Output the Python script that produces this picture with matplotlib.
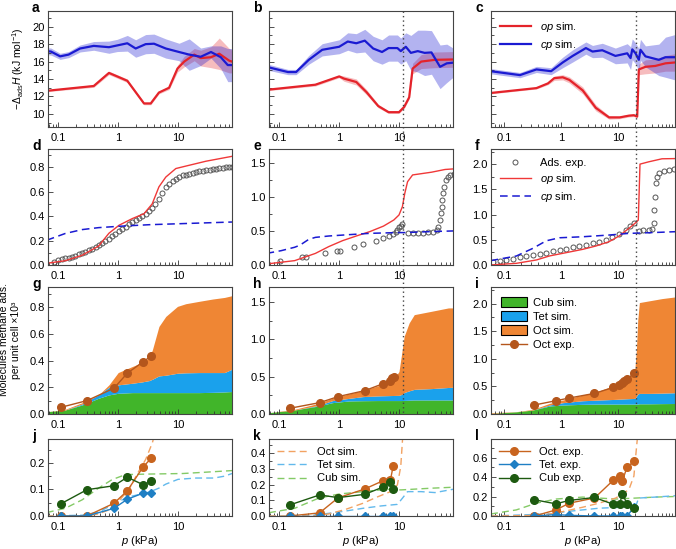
import numpy as np
import matplotlib
matplotlib.use("Agg")
import matplotlib.pyplot as plt
import matplotlib.transforms as mtransforms
from matplotlib.ticker import LogLocator, NullFormatter, MultipleLocator, FormatStrFormatter
from matplotlib.patches import Patch
from matplotlib.lines import Line2D

plt.rcParams["font.family"] = ["Liberation Sans", "DejaVu Sans"]
plt.rcParams["mathtext.fontset"] = "custom"
plt.rcParams["mathtext.rm"] = "Liberation Sans"
plt.rcParams["mathtext.it"] = "Liberation Sans:italic"
plt.rcParams["axes.linewidth"] = 0.8

# ---------------- data (row 1: enthalpy) ----------------
a_op_x = [0.064, 0.39, 0.70, 0.96, 1.42, 2.7, 3.5, 4.8, 7.1, 9.8, 12.7, 18.7, 24, 35.6, 49, 72, 80]
a_op_y = [12.65, 13.2, 14.7, 14.3, 13.8, 11.2, 11.2, 12.45, 13.0, 15.2, 16.0, 16.8, 16.4, 16.5, 16.9, 16.1, 16.0]
a_op_err = [0.1, 0.15, 0.2, 0.2, 0.2, 0.15, 0.15, 0.15, 0.2, 0.4, 0.6, 0.7, 0.9, 1.2, 1.8, 1.4, 1.3]
a_cp_x = [0.064, 0.075, 0.107, 0.148, 0.23, 0.39, 0.70, 0.96, 1.42, 1.96, 2.88, 3.97, 6.25, 10.4, 15.4, 24, 35.6, 52, 68, 80]
a_cp_y = [17.2, 17.15, 16.6, 16.8, 17.5, 17.8, 17.65, 17.85, 18.1, 17.5, 18.0, 18.05, 17.5, 17.1, 16.8, 16.55, 17.1, 16.5, 15.6, 15.6]
a_cp_err = [0.4, 0.4, 0.35, 0.35, 0.4, 0.5, 0.7, 0.7, 0.9, 1.0, 1.1, 1.1, 1.1, 1.0, 1.8, 1.0, 0.7, 1.3, 1.9, 1.9]

b_op_x = [0.061, 0.40, 1.0, 1.2, 1.93, 2.86, 4.5, 6.7, 10, 12.2, 14.8, 16.9, 23.5, 39.7, 87]
b_op_y = [12.76, 13.35, 14.3, 14.05, 13.66, 12.5, 10.9, 10.2, 10.2, 10.8, 11.9, 15.2, 16.0, 16.2, 16.25]
b_op_err = [0.1, 0.15, 0.15, 0.3, 0.35, 0.3, 0.2, 0.15, 0.15, 0.15, 0.2, 0.6, 0.8, 0.9, 0.9]
b_cp_x = [0.061, 0.139, 0.19, 0.31, 0.52, 1.0, 1.39, 1.93, 2.68, 3.7, 5.2, 6.7, 9.4, 10.7, 13.0, 15.8, 20.6, 26.8, 34.9, 48.6, 63, 87]
b_cp_y = [15.4, 14.8, 14.8, 16.2, 17.35, 17.7, 18.3, 18.1, 18.4, 17.5, 17.1, 17.55, 17.55, 17.2, 17.7, 17.0, 17.2, 17.0, 17.05, 15.4, 15.8, 15.9]
b_cp_err = [0.35, 0.3, 0.3, 0.5, 0.7, 0.8, 1.0, 1.1, 1.3, 1.4, 1.4, 1.5, 1.5, 1.5, 1.6, 2.0, 2.4, 2.6, 2.5, 2.5, 2.2, 1.5]

c_op_x = [0.058, 0.37, 0.59, 0.76, 1.07, 1.40, 2.4, 4.07, 6.96, 10.7, 15.5, 19.0, 21.7, 23.2, 30.3, 45, 68, 100]
c_op_y = [12.4, 12.96, 13.5, 14.1, 14.2, 13.9, 12.7, 10.7, 9.6, 9.6, 9.8, 9.85, 9.7, 15.1, 15.4, 15.5, 15.8, 15.9]
c_op_err = [0.1, 0.1, 0.15, 0.25, 0.3, 0.35, 0.4, 0.35, 0.2, 0.15, 0.15, 0.15, 0.15, 0.6, 0.8, 0.8, 0.9, 1.0]
c_cp_x = [0.058, 0.19, 0.37, 0.67, 1.07, 1.6, 2.73, 3.57, 5.3, 9.0, 14.5, 16.6, 17.8, 20.3, 23.2, 24.8, 30.3, 52, 68, 100]
c_cp_y = [14.9, 14.45, 15.1, 14.9, 15.9, 16.65, 17.55, 17.15, 17.3, 16.65, 16.95, 16.4, 17.4, 16.95, 16.2, 17.35, 16.6, 16.2, 16.5, 16.5]
c_cp_err = [0.3, 0.3, 0.35, 0.4, 0.6, 0.7, 0.7, 0.7, 0.8, 0.9, 1.1, 1.3, 1.2, 1.2, 1.3, 1.2, 1.2, 1.8, 2.3, 2.6]

# ---------------- data (row 2: isotherms) ----------------
d_op_x = [0.064, 0.13, 0.25, 0.47, 0.70, 1.03, 1.72, 2.7, 3.7, 4.8, 6.25, 9.2, 13.5, 29.4, 80]
d_op_y = [0.014, 0.035, 0.08, 0.155, 0.26, 0.325, 0.38, 0.42, 0.50, 0.64, 0.72, 0.79, 0.81, 0.85, 0.89]
d_cp_x = [0.064, 0.13, 0.25, 0.47, 1.03, 3.3, 12, 80]
d_cp_y = [0.203, 0.258, 0.29, 0.306, 0.317, 0.33, 0.339, 0.352]
d_exp_x = [0.083, 0.1, 0.115, 0.13, 0.15, 0.17, 0.19, 0.22, 0.25, 0.28, 0.32, 0.37, 0.42, 0.47, 0.54, 0.61,
           0.7, 0.79, 0.9, 1.03, 1.17, 1.33, 1.5, 1.72, 1.95, 2.23, 2.5, 2.88, 3.25, 3.73, 4.2, 4.8, 5.5, 6.25,
           7.1, 8.1, 9.2, 10.5, 12, 13.5, 15.5, 17.5, 20, 22.7, 26, 29.4, 34, 38, 44, 49, 56, 64, 72, 79]
d_exp_y = [0.027, 0.04, 0.047, 0.054, 0.061, 0.068, 0.077, 0.087, 0.097, 0.108, 0.12, 0.133, 0.146, 0.16,
           0.177, 0.195, 0.215, 0.236, 0.256, 0.277, 0.295, 0.312, 0.332, 0.353, 0.37, 0.388, 0.403, 0.42,
           0.442, 0.47, 0.5, 0.54, 0.59, 0.637, 0.667, 0.69, 0.708, 0.724, 0.733, 0.74, 0.747, 0.754, 0.76,
           0.767, 0.772, 0.778, 0.782, 0.786, 0.79, 0.795, 0.798, 0.80, 0.803, 0.805]

e_op_x = [0.061, 0.18, 0.40, 0.67, 1.14, 1.93, 3.27, 5.5, 8.2, 10, 11.4, 12.5, 13.9, 16.9, 35, 59, 87]
e_op_y = [0.015, 0.064, 0.17, 0.27, 0.357, 0.425, 0.49, 0.57, 0.66, 0.733, 0.855, 1.05, 1.22, 1.32, 1.36, 1.40, 1.41]
e_cp_x = [0.061, 0.107, 0.18, 0.22, 0.31, 0.40, 0.67, 1.48, 3.27, 9.4, 12.2, 35, 87]
e_cp_y = [0.17, 0.21, 0.26, 0.29, 0.376, 0.405, 0.425, 0.445, 0.464, 0.475, 0.475, 0.49, 0.50]
e_exp_x = [0.104, 0.24, 0.28, 0.57, 0.91, 1.03, 1.74, 2.5, 4.1, 5.5, 6.9, 8.0, 8.8, 9.4, 10, 10.7, 11.4,
           13.9, 16.9, 20.6, 25, 30.6, 37, 42.5, 45, 48.6, 50, 52, 53, 55, 57.5, 60.5, 65.6, 72, 82, 93]
e_exp_y = [0.064, 0.112, 0.112, 0.17, 0.21, 0.21, 0.27, 0.31, 0.357, 0.39, 0.425, 0.454, 0.49, 0.52, 0.55,
           0.57, 0.60, 0.464, 0.464, 0.464, 0.47, 0.48, 0.49, 0.51, 0.56, 0.66, 0.757, 0.855, 0.95, 1.05,
           1.15, 1.245, 1.295, 1.32, 1.334, 1.34]

f_op_x = [0.058, 0.164, 0.37, 0.63, 1.22, 2.39, 4.07, 6.96, 10.4, 15.5, 20.4, 22.7, 24.3, 34.6, 59.2, 100]
f_op_y = [0.0, 0.033, 0.1, 0.18, 0.244, 0.31, 0.376, 0.462, 0.574, 0.726, 0.838, 0.89, 2.0, 2.046, 2.106, 2.11]
f_cp_x = [0.058, 0.164, 0.32, 0.55, 0.94, 2.39, 6.96, 15.5, 34.6, 100]
f_cp_y = [0.086, 0.178, 0.33, 0.48, 0.54, 0.56, 0.594, 0.627, 0.64, 0.66]
f_exp_x = [0.064, 0.084, 0.11, 0.143, 0.188, 0.245, 0.32, 0.42, 0.55, 0.72, 0.94, 1.22, 1.6, 2.09, 2.73,
           3.57, 4.66, 6.1, 7.97, 10.4, 13.6, 16.3, 19.0, 23, 28, 34.6, 39.4, 42, 43.5, 44.5, 45.7, 47.6,
           51.7, 63.5, 77.6, 96]
f_exp_y = [0.066, 0.079, 0.099, 0.125, 0.152, 0.178, 0.198, 0.218, 0.244, 0.27, 0.297, 0.323, 0.35, 0.376,
           0.403, 0.43, 0.462, 0.495, 0.548, 0.614, 0.693, 0.772, 0.838, 0.68, 0.693, 0.693, 0.72, 0.825,
           1.09, 1.35, 1.62, 1.75, 1.815, 1.86, 1.88, 1.90]

# ---------------- data (row 3: stacked site occupation, cumulative tops) ----------------
g_x = [0.067, 0.13, 0.25, 0.47, 0.70, 1.0, 1.72, 2.5, 3.3, 3.73, 4.8, 6.25, 9.8, 13.5, 22.7, 38, 60, 80]
g_cub = [0.018, 0.03, 0.068, 0.118, 0.143, 0.155, 0.16, 0.16, 0.16, 0.16, 0.16, 0.16, 0.16, 0.16, 0.16, 0.162, 0.165, 0.168]
g_tet = [0.018, 0.03, 0.075, 0.143, 0.20, 0.218, 0.23, 0.24, 0.25, 0.26, 0.285, 0.29, 0.305, 0.308, 0.31, 0.31, 0.31, 0.335]
g_tot = [0.018, 0.035, 0.085, 0.143, 0.218, 0.31, 0.355, 0.385, 0.42, 0.48, 0.655, 0.73, 0.805, 0.825, 0.843, 0.86, 0.872, 0.885]
g_exp_x = [0.11, 0.30, 0.85, 1.42, 2.6, 3.6]
g_exp_y = [0.05, 0.10, 0.193, 0.305, 0.39, 0.435]

h_x = [0.067, 0.18, 0.45, 0.77, 1.48, 2.5, 4.4, 8.2, 10.0, 10.9, 12.2, 14.8, 18, 35, 67, 80]
h_cub = [0.018, 0.054, 0.107, 0.152, 0.175, 0.178, 0.18, 0.18, 0.18, 0.18, 0.182, 0.185, 0.188, 0.188, 0.188, 0.188]
h_tet = [0.018, 0.054, 0.116, 0.179, 0.21, 0.233, 0.242, 0.248, 0.25, 0.26, 0.287, 0.31, 0.33, 0.34, 0.355, 0.358]
h_tot = [0.018, 0.063, 0.143, 0.21, 0.27, 0.313, 0.376, 0.466, 0.569, 0.77, 1.04, 1.22, 1.33, 1.375, 1.42, 1.42]
h_exp_x = [0.148, 0.47, 0.96, 2.68, 5.3, 7.2, 7.7, 8.2]
h_exp_y = [0.076, 0.152, 0.233, 0.313, 0.403, 0.443, 0.48, 0.50]

i_x = [0.059, 0.164, 0.32, 0.63, 1.07, 2.39, 4.66, 9.1, 13.6, 17.8, 19.7, 21.0, 22.2, 23.7, 34.6, 59.2, 100]
i_cub = [0.012, 0.04, 0.072, 0.145, 0.163, 0.175, 0.18, 0.18, 0.18, 0.18, 0.18, 0.18, 0.18, 0.185, 0.185, 0.188, 0.19]
i_tet = [0.012, 0.04, 0.072, 0.163, 0.205, 0.24, 0.253, 0.265, 0.275, 0.28, 0.283, 0.32, 0.36, 0.373, 0.373, 0.378, 0.385]
i_tot = [0.024, 0.042, 0.084, 0.193, 0.253, 0.343, 0.42, 0.524, 0.614, 0.705, 0.795, 1.157, 1.70, 2.018, 2.048, 2.09, 2.12]
i_exp_x = [0.34, 0.81, 1.40, 3.86, 8.3, 10.4, 11.6, 12.8, 14.5, 19.4]
i_exp_y = [0.163, 0.24, 0.29, 0.373, 0.482, 0.524, 0.566, 0.596, 0.626, 0.747]

# ---------------- data (row 4: per-site) ----------------
j_oct_x = [0.064, 0.30, 0.47, 0.70, 1.0, 1.5, 2.2, 2.88, 3.73, 4.8, 6.25]
j_oct_y = [0.0, 0.0, 0.008, 0.023, 0.054, 0.099, 0.168, 0.213, 0.276, 0.37, 0.43]
j_tet_x = [0.064, 0.25, 0.47, 0.7, 1.0, 1.72, 3.3, 4.8, 6.25, 10, 20, 40, 60, 80]
j_tet_y = [0.0, 0.003, 0.015, 0.035, 0.055, 0.075, 0.09, 0.105, 0.12, 0.138, 0.143, 0.143, 0.15, 0.16]
j_cub_x = [0.064, 0.13, 0.25, 0.47, 0.79, 1.33, 3.3, 12, 29, 80]
j_cub_y = [0.013, 0.029, 0.061, 0.105, 0.137, 0.156, 0.158, 0.16, 0.165, 0.171]
j_exp_x = [0.11, 0.30, 0.85, 1.42, 2.6, 3.6]
j_exp_oct = [0.0, 0.0, 0.048, 0.095, 0.184, 0.219]
j_exp_tet = [0.0, 0.0, 0.029, 0.063, 0.086, 0.086]
j_exp_cub = [0.046, 0.099, 0.114, 0.146, 0.118, 0.13]

k_oct_x = [0.067, 0.35, 0.67, 1.3, 2.5, 4.2, 7.2, 9.4, 10.7, 11.4, 12.0]
k_oct_y = [0.0, 0.0, 0.013, 0.043, 0.081, 0.119, 0.155, 0.198, 0.315, 0.474, 0.6]
k_tet_x = [0.067, 0.35, 0.67, 1.3, 2.5, 5.0, 9.4, 11.4, 13.9, 23.5, 40, 80]
k_tet_y = [0.0, 0.004, 0.017, 0.032, 0.049, 0.064, 0.074, 0.113, 0.155, 0.155, 0.149, 0.17]
k_cub_x = [0.067, 0.18, 0.45, 1.0, 2.5, 6.3, 10.7, 35, 80]
k_cub_y = [0.021, 0.049, 0.113, 0.14, 0.155, 0.17, 0.166, 0.177, 0.183]
k_exp_x = [0.148, 0.47, 0.96, 2.68, 5.3, 7.2, 8.0]
k_exp_oct = [0.0, 0.02, 0.116, 0.172, 0.223, 0.23, 0.319]
k_exp_tet = [0.003, 0.003, 0.003, 0.003, 0.003, 0.003, 0.003]
k_exp_cub = [0.07, 0.134, 0.117, 0.138, 0.183, 0.219, 0.17]

l_oct_x = [0.059, 0.48, 1.07, 2.4, 4.66, 9.1, 15.5, 19.0, 20.7, 21.8, 23]
l_oct_y = [0.0, 0.007, 0.045, 0.09, 0.132, 0.184, 0.27, 0.41, 0.65, 0.79, 0.9]
l_tet_x = [0.059, 0.63, 1.22, 4.66, 11.7, 20.4, 23, 45, 100]
l_tet_y = [0.0, 0.021, 0.045, 0.08, 0.09, 0.097, 0.184, 0.194, 0.208]
l_cub_x = [0.059, 0.164, 0.37, 0.82, 2.4, 9.1, 20.4, 45, 100]
l_cub_y = [0.021, 0.0625, 0.132, 0.174, 0.194, 0.174, 0.184, 0.194, 0.2]
l_exp_x = [0.34, 0.81, 1.40, 3.86, 8.3, 10.7, 11.9, 14.5, 19.4]
l_exp_oct = [0.0, 0.062, 0.132, 0.184, 0.368, 0.41, 0.358, 0.507, 0.56]
l_exp_tet = [0.0, 0.014, 0.007, 0.0, 0.0, 0.0, 0.0, 0.0, 0.097]
l_exp_cub = [0.167, 0.125, 0.16, 0.19, 0.12, 0.12, 0.23, 0.12, 0.087]

# colours
RED = "#e4232a"
BLUE = "#1a1ad2"
GREEN = "#41b52a"
TETC = "#1aa1ec"
ORANGE = "#ef8634"
OCTEXP = "#b4561c"
D_OCT = "#f2a262"
D_TET = "#62b9ec"
D_CUB = "#84ca66"
E_OCT = "#c8641e"
E_TET = "#1f7fc4"
E_CUB = "#1d5a10"

# ---------------- layout ----------------
W, H = 676, 549
fig = plt.figure(figsize=(W / 100, H / 100), dpi=100)
col_left = [48, 269, 491]
col_w = 184
rows = [(11, 127), (149, 265), (287, 414), (439, 516)]
xlims = [(0.067, 80), (0.067, 80), (0.059, 100)]

axes = [[None] * 3 for _ in range(4)]
for r, (top, bot) in enumerate(rows):
    for c in range(3):
        ax = fig.add_axes([col_left[c] / W, 1 - bot / H, col_w / W, (bot - top) / H])
        ax.set_xscale("log")
        ax.set_xlim(*xlims[c])
        ax.set_xticks([0.1, 1, 10])
        ax.set_xticklabels(["0.1", "1", "10"])
        ax.xaxis.set_minor_locator(LogLocator(base=10, subs=np.arange(2, 10), numticks=20))
        ax.xaxis.set_minor_formatter(NullFormatter())
        ax.tick_params(which="both", direction="in", labelsize=8, width=0.6, color="#333333")
        ax.tick_params(axis="x", pad=4.5)
        ax.tick_params(axis="y", pad=2.5)
        ax.tick_params(which="major", length=3.5)
        ax.tick_params(which="minor", length=2)
        for s in ax.spines.values():
            s.set_color("#444444")
        axes[r][c] = ax
        fig.text((col_left[c] - 16) / W, 1 - (top + 1) / H, "abcdefghijkl"[r * 3 + c],
                 fontsize=10, fontweight="bold", ha="left", va="baseline")

def band(ax, x, y, err, col, lw=1.6, alpha=0.35):
    y = np.array(y)
    err = np.array(err)
    ax.fill_between(x, y - err, y + err, color=col, alpha=alpha, lw=0)
    ax.plot(x, y, color=col, lw=lw)

# row 1
row1 = [(a_op_x, a_op_y, a_op_err, a_cp_x, a_cp_y, a_cp_err),
        (b_op_x, b_op_y, b_op_err, b_cp_x, b_cp_y, b_cp_err),
        (c_op_x, c_op_y, c_op_err, c_cp_x, c_cp_y, c_cp_err)]
for c, (ox, oy, oe, cx, cy, ce) in enumerate(row1):
    ax = axes[0][c]
    band(ax, ox, oy, oe, RED, alpha=0.3)
    band(ax, cx, cy, ce, BLUE, alpha=0.33)
    ax.set_ylim(8.5, 21.8)
    ax.set_yticks([10, 12, 14, 16, 18, 20])
    ax.yaxis.set_minor_locator(MultipleLocator(1))
    if c > 0:
        ax.set_yticklabels([])
axes[0][0].set_ylabel(r"$-\Delta_{\rm ads}\it{H}$ (kJ mol$^{-1}$)", fontsize=7.5, labelpad=4)
axes[0][2].legend(handles=[Line2D([], [], color=RED, lw=1.6, label=r"$\it{op}$ sim."),
                           Line2D([], [], color=BLUE, lw=1.6, label=r"$\it{cp}$ sim.")],
                  loc="upper left", frameon=False, fontsize=8, handlelength=2.8,
                  labelspacing=0.35, borderaxespad=0.4, handletextpad=0.8)

# row 2
row2 = [(d_op_x, d_op_y, d_cp_x, d_cp_y, d_exp_x, d_exp_y, 0.95, 0.2, 0.1),
        (e_op_x, e_op_y, e_cp_x, e_cp_y, e_exp_x, e_exp_y, 1.7, 0.5, 0.25),
        (f_op_x, f_op_y, f_cp_x, f_cp_y, f_exp_x, f_exp_y, 2.3, 0.5, 0.25)]
for c, (ox, oy, cx, cy, ex, ey, ytop, maj, mnr) in enumerate(row2):
    ax = axes[1][c]
    ax.plot(ex, ey, "o", ms=3.6, mfc="none", mec="#555555", mew=0.7)
    ax.plot(ox, oy, color="#f03838", lw=1.0)
    ax.plot(cx, cy, color=BLUE, lw=1.1, dashes=(5, 3))
    ax.set_ylim(0, ytop)
    ax.yaxis.set_major_locator(MultipleLocator(maj))
    ax.yaxis.set_minor_locator(MultipleLocator(mnr))
    ax.yaxis.set_major_formatter(FormatStrFormatter("%.1f"))
axes[1][2].legend(handles=[Line2D([], [], ls="none", marker="o", ms=3.6, mfc="none", mec="#555555",
                                  mew=0.7, label="Ads. exp."),
                           Line2D([], [], color="#f03838", lw=1.0, label=r"$\it{op}$ sim."),
                           Line2D([], [], color=BLUE, lw=1.1, dashes=(5, 3), label=r"$\it{cp}$ sim.")],
                  loc="upper left", frameon=False, fontsize=8, handlelength=2.8,
                  labelspacing=0.35, borderaxespad=0.4, handletextpad=0.8)

# row 3
row3 = [(g_x, g_cub, g_tet, g_tot, g_exp_x, g_exp_y, 0.95, 0.2, 0.1),
        (h_x, h_cub, h_tet, h_tot, h_exp_x, h_exp_y, 1.7, 0.5, 0.25),
        (i_x, i_cub, i_tet, i_tot, i_exp_x, i_exp_y, 2.3, 0.5, 0.25)]
for c, (x, cub, tet, tot, ex, ey, ytop, maj, mnr) in enumerate(row3):
    ax = axes[2][c]
    ax.fill_between(x, 0, cub, color=GREEN, lw=0)
    ax.fill_between(x, cub, tet, color=TETC, lw=0)
    ax.fill_between(x, tet, tot, color=ORANGE, lw=0)
    ax.plot(ex, ey, "-o", color=OCTEXP, ms=5.5, lw=1.0)
    ax.set_ylim(0, ytop)
    ax.yaxis.set_major_locator(MultipleLocator(maj))
    ax.yaxis.set_minor_locator(MultipleLocator(mnr))
    ax.yaxis.set_major_formatter(FormatStrFormatter("%.1f"))
axes[2][2].legend(handles=[Patch(facecolor=GREEN, edgecolor="black", lw=0.8, label="Cub sim."),
                           Patch(facecolor=TETC, edgecolor="black", lw=0.8, label="Tet sim."),
                           Patch(facecolor=ORANGE, edgecolor="black", lw=0.8, label="Oct sim."),
                           Line2D([], [], color=OCTEXP, marker="o", ms=5.5, lw=1.0, label="Oct exp.")],
                  loc="upper left", frameon=False, fontsize=8, handlelength=2.3, handleheight=1.0,
                  labelspacing=0.3, borderaxespad=0.5, handletextpad=0.6)

# row 4
row4 = [(j_oct_x, j_oct_y, j_tet_x, j_tet_y, j_cub_x, j_cub_y, j_exp_x, j_exp_oct, j_exp_tet, j_exp_cub, 0.29, 0.1, 0.05),
        (k_oct_x, k_oct_y, k_tet_x, k_tet_y, k_cub_x, k_cub_y, k_exp_x, k_exp_oct, k_exp_tet, k_exp_cub, 0.49, 0.1, 0.05),
        (l_oct_x, l_oct_y, l_tet_x, l_tet_y, l_cub_x, l_cub_y, l_exp_x, l_exp_oct, l_exp_tet, l_exp_cub, 0.79, 0.2, 0.1)]
for c, (ox, oy, tx, ty, cx, cy, ex, eo, et, ec, ytop, maj, mnr) in enumerate(row4):
    ax = axes[3][c]
    ax.plot(cx, cy, color=D_CUB, lw=1.0, dashes=(5, 3))
    ax.plot(tx, ty, color=D_TET, lw=1.0, dashes=(5, 3))
    ax.plot(ox, oy, color=D_OCT, lw=1.0, dashes=(5, 3))
    ax.plot(ex, eo, "-o", color=E_OCT, ms=5.5, lw=1.0)
    ax.plot(ex, et, "-D", color=E_TET, ms=4.5, lw=1.0)
    ax.plot(ex, ec, "-o", color=E_CUB, ms=5.5, lw=1.0)
    ax.set_ylim(0, ytop)
    ax.yaxis.set_major_locator(MultipleLocator(maj))
    ax.yaxis.set_minor_locator(MultipleLocator(mnr))
    ax.yaxis.set_major_formatter(FormatStrFormatter("%.1f"))
    ax.set_xlabel(r"$\it{p}$ (kPa)", fontsize=8, labelpad=1.5)
axes[3][1].legend(handles=[Line2D([], [], color=D_OCT, lw=1.0, dashes=(5, 3), label="Oct sim."),
                           Line2D([], [], color=D_TET, lw=1.0, dashes=(5, 3), label="Tet sim."),
                           Line2D([], [], color=D_CUB, lw=1.0, dashes=(5, 3), label="Cub sim.")],
                  loc="upper left", frameon=False, fontsize=8, handlelength=2.8,
                  labelspacing=0.3, borderaxespad=0.3, handletextpad=0.8)
axes[3][2].legend(handles=[Line2D([], [], color=E_OCT, marker="o", ms=5.5, lw=1.0, label="Oct. exp."),
                           Line2D([], [], color=E_TET, marker="D", ms=4.5, lw=1.0, label="Tet. exp."),
                           Line2D([], [], color=E_CUB, marker="o", ms=5.5, lw=1.0, label="Cub exp.")],
                  loc="upper left", frameon=False, fontsize=8, handlelength=2.8,
                  labelspacing=0.3, borderaxespad=0.3, handletextpad=0.8)

# shared y label rows d-i
fig.text(10 / W, 1 - 340 / H, "Molecules methane ads.\nper unit cell ×10³", rotation=90,
         fontsize=7.5, ha="center", va="center", multialignment="center")

# dotted step-pressure lines across rows 1-3
for c, xv in [(1, 11.5), (2, 20.5)]:
    tr = mtransforms.blended_transform_factory(axes[0][c].transData, fig.transFigure)
    fig.add_artist(Line2D([xv, xv], [1 - 11 / H, 1 - 414 / H], transform=tr, color="#444444",
                          lw=1.0, ls=(0, (1, 2.2)), zorder=5))

fig.savefig("out.png", dpi=100)
